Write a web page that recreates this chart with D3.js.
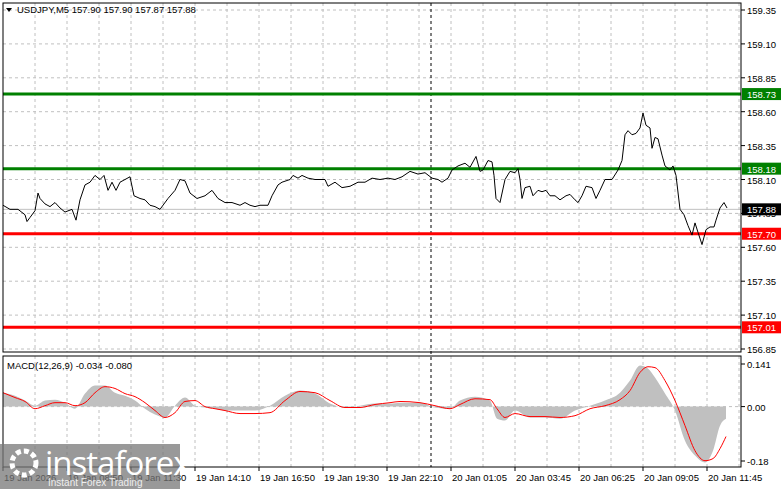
<!DOCTYPE html>
<html><head><meta charset="utf-8">
<script src="https://cdn.jsdelivr.net/npm/d3@7"></script>
<style>body{margin:0;background:#fff}svg{display:block;font-family:"Liberation Sans",Arial,sans-serif}</style>
</head><body>
<svg id="chart" width="781" height="489"></svg>
<script>
// price path: bar index (5-min bars) and close
var priceBars = [0,3.5,7.5,11,12,13.5,16,17.5,18.5,21,23.5,26,28.5,31,34.5,36.5,38.5,41,43.5,46,48.5,50.5,52.5,54.5,56.5,58.5,61,63.5,65.5,68.5,71,73.5,76,78.5,82.5,86,88.5,91,93.5,97,101,104.5,107.5,111,114.5,118.5,121,123.5,126,128.5,132.5,134.5,137.5,139.5,143.5,145,147.5,149.5,152.5,156,161,162.5,166,169.5,173.5,177.5,181,184.5,188.5,192.5,196,199.5,203.5,207.5,211,214.5,217.5,219.5,222.5,224.5,227.5,231,233.5,236.5,238.5,240,242.5,244.5,245.5,246.5,248.5,251,253.5,256,257.5,258.5,259.5,261,263.5,265,267.5,269.5,271.5,273.5,276,278.5,281.5,283.5,286,287.5,289.5,291.5,294.5,296.5,298.5,301,304.5,307.5,309.5,311,312.5,314.5,316.5,318.5,320,321.5,323.5,324.5,326,327.5,329.5,331,333.5,335,336.5,338.5,340.5,342.5,344.5,346,347.5,349.5,351.5,353.5,355.5,356.5,358.5,360.5,362];
var priceClose = [157.91,157.88,157.88,157.84,157.79,157.82,157.87,158.00,157.96,157.92,157.90,157.93,157.89,157.86,157.88,157.80,157.95,158.06,158.08,158.13,158.10,158.13,158.02,158.08,158.02,158.08,158.10,158.12,157.98,157.96,157.95,157.91,157.90,157.88,157.96,158.02,158.10,158.09,158.00,157.96,157.98,158.02,157.96,157.93,157.93,157.91,157.93,157.91,157.90,157.91,157.91,157.98,158.06,158.08,158.10,158.13,158.11,158.13,158.11,158.10,158.10,158.05,158.08,158.04,158.05,158.08,158.08,158.11,158.10,158.11,158.10,158.12,158.16,158.14,158.15,158.11,158.10,158.08,158.11,158.17,158.20,158.22,158.19,158.27,158.16,158.17,158.24,158.23,158.13,157.96,157.93,158.10,158.16,158.15,158.18,158.10,157.96,158.04,158.05,157.98,158.02,158.01,158.02,157.98,157.98,157.95,157.98,157.99,157.95,157.93,157.98,158.05,158.04,157.96,158.02,158.10,158.10,158.17,158.24,158.43,158.46,158.43,158.44,158.48,158.59,158.50,158.48,158.33,158.41,158.40,158.28,158.20,158.17,158.20,158.13,157.88,157.84,157.76,157.69,157.78,157.71,157.62,157.73,157.75,157.75,157.80,157.89,157.93,157.89];
var macdBars = [0,6,11,16,21,26,31,36,41,46,51,56,61,66,71,76,81,86,91,96,101,106,111,118.5,126,133.5,141,148.5,156,163.5,171,178.5,186,193.5,198.5,208.5,216,223.5,228.5,236,243.5,247,251,256,263.5,271,278.5,286,293.5,301,308.5,313.5,318.5,322.5,326,331,336,341,346,351,355,358.5,361.5];
var macdHist = [0.046,0.036,0.020,0.003,0.020,0.023,0.013,-0.007,0.043,0.070,0.070,0.046,0.036,0.020,-0.007,-0.026,-0.036,0.003,0.030,0.003,-0.003,-0.007,-0.013,-0.013,-0.013,0.003,0.036,0.053,0.043,0.010,-0.003,0.003,0.010,0.010,0.013,0.013,-0.003,-0.007,0.020,0.033,0.020,-0.040,-0.046,-0.013,-0.036,-0.036,-0.040,-0.013,0.003,0.020,0.046,0.086,0.136,0.126,0.096,0.043,-0.013,-0.113,-0.162,-0.185,-0.146,-0.063,-0.040];
var macdSignal = [0.046,0.030,0.017,-0.007,0.003,0.013,0.013,0.003,0.013,0.046,0.066,0.060,0.043,0.033,0.013,-0.013,-0.036,-0.020,0.017,0.020,0.000,-0.007,-0.013,-0.023,-0.023,-0.020,0.020,0.050,0.046,0.020,-0.003,-0.003,0.007,0.013,0.017,0.013,0.003,-0.007,0.007,0.026,0.023,-0.007,-0.036,-0.023,-0.033,-0.033,-0.036,-0.030,-0.007,0.003,0.023,0.053,0.113,0.132,0.129,0.086,0.020,-0.063,-0.146,-0.179,-0.172,-0.139,-0.099];
var priceTicks = [159.35,159.10,158.85,158.60,158.35,158.10,157.85,157.60,157.35,157.10,156.85];
var macdTicks = [0.141,0.00,-0.18];
var timeTickBars = [0,32,64,96,128,160,192,224,256,288,320,352];
var timeTickLabels = ["19 Jan 2026","19 Jan 08:50","19 Jan 11:30","19 Jan 14:10","19 Jan 16:50","19 Jan 19:30","19 Jan 22:10","20 Jan 01:05","20 Jan 03:45","20 Jan 06:25","20 Jan 09:05","20 Jan 11:45"];
var levels = [{v:158.73,c:"#008000"},{v:158.18,c:"#008000"},{v:157.70,c:"#ff0000"},{v:157.01,c:"#ff0000"}];
var lastPrice = 157.88;
var sessionBar = 214;

var svg = d3.select("#chart");
var L = 3, R = 741, mT = 3, mB = 352, dT = 356, dB = 467;
var x = d3.scaleLinear().domain([0, 369]).range([L, R]);
var y = d3.scaleLinear().domain([156.85, 159.35]).range([349, 10]);
var ym = d3.scaleLinear().domain([-0.18, 0.141]).range([461, 364]);

var grid = svg.append("g").attr("stroke", "#c0c0c0").attr("stroke-dasharray", "3,3");
d3.range(16, 369, 16).forEach(function(b) {
	grid.append("line").attr("x1", x(b)).attr("x2", x(b)).attr("y1", mT).attr("y2", mB);
	grid.append("line").attr("x1", x(b)).attr("x2", x(b)).attr("y1", dT).attr("y2", dB);
});
priceTicks.forEach(function(t) {
	grid.append("line").attr("x1", L).attr("x2", R).attr("y1", y(t)).attr("y2", y(t));
});
grid.append("line").attr("x1", L).attr("x2", R).attr("y1", ym(0)).attr("y2", ym(0));

// session separator
svg.append("line").attr("x1", x(sessionBar)).attr("x2", x(sessionBar)).attr("y1", mT).attr("y2", dB)
	.attr("stroke", "#000").attr("stroke-dasharray", "3,3");

// current price line
svg.append("line").attr("x1", L).attr("x2", R).attr("y1", y(lastPrice)).attr("y2", y(lastPrice)).attr("stroke", "#c0c0c0");

// levels
levels.forEach(function(l) {
	svg.append("line").attr("x1", L).attr("x2", R).attr("y1", y(l.v)).attr("y2", y(l.v))
		.attr("stroke", l.c).attr("stroke-width", 3);
});

// price
svg.append("path").datum(d3.zip(priceBars, priceClose))
	.attr("fill", "none").attr("stroke", "#000").attr("stroke-width", 1)
	.attr("d", d3.line().x(function(d) { return x(d[0]); }).y(function(d) { return y(d[1]); }));

// macd histogram
svg.append("path").datum(d3.zip(macdBars, macdHist))
	.attr("fill", "#c0c0c0")
	.attr("d", d3.area().curve(d3.curveMonotoneX).x(function(d) { return x(d[0]); })
		.y0(ym(0)).y1(function(d) { return ym(d[1]); }));
svg.append("path").datum(d3.zip(macdBars, macdSignal))
	.attr("fill", "none").attr("stroke", "#ff0000").attr("stroke-width", 1)
	.attr("d", d3.line().curve(d3.curveMonotoneX).x(function(d) { return x(d[0]); }).y(function(d) { return ym(d[1]); }));

// frames
svg.append("rect").attr("x", L).attr("y", mT).attr("width", R - L).attr("height", mB - mT).attr("fill", "none").attr("stroke", "#000");
svg.append("rect").attr("x", L).attr("y", dT).attr("width", R - L).attr("height", dB - dT).attr("fill", "none").attr("stroke", "#000");

// right axes
var ax = svg.append("g").attr("font-size", 9.5).attr("fill", "#000");
priceTicks.forEach(function(t) {
	svg.append("line").attr("x1", R).attr("x2", R + 4).attr("y1", y(t)).attr("y2", y(t)).attr("stroke", "#000");
	ax.append("text").attr("x", R + 6).attr("y", y(t) + 4).text(t.toFixed(2));
});
macdTicks.forEach(function(t) {
	svg.append("line").attr("x1", R).attr("x2", R + 4).attr("y1", ym(t)).attr("y2", ym(t)).attr("stroke", "#000");
	ax.append("text").attr("x", R + 6).attr("y", ym(t) + 4).text(t === 0 ? "0.00" : String(t));
});
levels.concat([{v:lastPrice, c:"#000"}]).forEach(function(l) {
	svg.append("rect").attr("x", R + 1).attr("y", y(l.v) - 6).attr("width", 39).attr("height", 12).attr("fill", l.c);
	svg.append("text").attr("x", R + 6).attr("y", y(l.v) + 4).attr("font-size", 9.5).attr("fill", "#fff").text(l.v.toFixed(2));
});

// time axis
timeTickBars.forEach(function(b, i) {
	svg.append("line").attr("x1", x(b)).attr("x2", x(b)).attr("y1", dB).attr("y2", dB + 4).attr("stroke", "#000");
	svg.append("text").attr("x", x(b) + 1).attr("y", 481).attr("font-size", 9.5).text(timeTickLabels[i]);
});

// titles
svg.append("path").attr("d", "M6,8 L12,8 L9,12 Z").attr("fill", "#000");
svg.append("text").attr("x", 17).attr("y", 13).attr("font-size", 9.5).text("USDJPY,M5  157.90 157.90 157.87 157.88");
svg.append("text").attr("x", 7).attr("y", 369).attr("font-size", 9.5).text("MACD(12,26,9) -0.034 -0.080");

// watermark
var wm = svg.append("g");
wm.append("rect").attr("x", 0).attr("y", 444).attr("width", 180).attr("height", 45).attr("fill", "#777").attr("opacity", 0.75);
wm.append("circle").attr("cx", 24).attr("cy", 463).attr("r", 12).attr("fill", "none").attr("stroke", "#fff").attr("stroke-width", 5).attr("stroke-dasharray", "5,3");
wm.append("text").attr("x", 45).attr("y", 475).attr("font-size", 33).attr("fill", "#fff").attr("font-family", "Open Sans").attr("letter-spacing", -1).text("instaforex");
wm.append("text").attr("x", 48).attr("y", 486).attr("font-size", 10).attr("fill", "#eee").text("Instant Forex Trading");
</script>
</body></html>
